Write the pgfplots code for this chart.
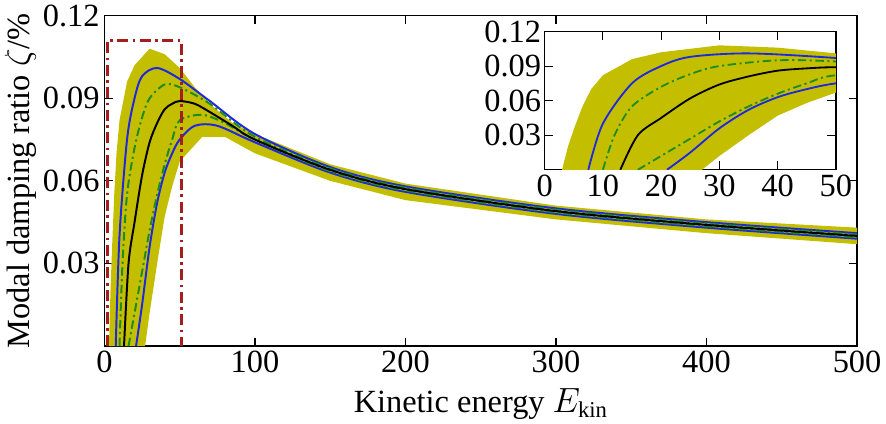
\documentclass[border=0pt]{standalone}
\usepackage{pgfplots}
\usepackage{pgfplotstable}
\pgfplotsset{compat=1.18}
\usepackage{fontspec}
\setmainfont{Liberation Serif}
\definecolor{band}{RGB}{196,190,0}
\definecolor{cblue}{RGB}{30,40,220}
\definecolor{cgreen}{RGB}{30,140,30}
\definecolor{cred}{RGB}{165,30,30}
\pgfplotstableread{
x y
3 0
4 0.02
5 0.035
6.5 0.055
8 0.07
10 0.082
15 0.096
20 0.102
30 0.108
40 0.106
50 0.101
60 0.094
70 0.088
85 0.081
100 0.077
150 0.066
200 0.059
300 0.051
400 0.046
500 0.043
500 0.037
400 0.041
300 0.046
200 0.053
150 0.060
100 0.070
80 0.076
65 0.076
50 0.067
45 0.058
40 0.047
35 0.030
30 0.012
27 0
}\band
\pgfplotstableread{
x y
13 0
16 0.03
20 0.045
25 0.062
30 0.074
35 0.081
40 0.086
45 0.088
50 0.089
60 0.088
70 0.085
85 0.080
100 0.075
150 0.064
200 0.057
300 0.049
400 0.044
500 0.040
}\black
\pgfplotstableread{
x y
7.5 0
10 0.04
15 0.075
20 0.09
25 0.098
35 0.101
50 0.097
70 0.089
100 0.077
150 0.065
200 0.058
300 0.050
400 0.045
500 0.041
}\bup
\pgfplotstableread{
x y
21 0
25 0.015
30 0.036
35 0.052
40 0.063
45 0.07
50 0.075
60 0.080
75 0.080
100 0.074
150 0.063
200 0.056
300 0.048
400 0.043
500 0.039
}\blo
\pgfplotstableread{
x y
10 0
12 0.03
15 0.055
20 0.072
25 0.083
30 0.09
40 0.095
50 0.094
70 0.088
100 0.076
150 0.0645
200 0.0575
300 0.0495
400 0.0445
500 0.0405
}\gup
\pgfplotstableread{
x y
16 0
20 0.012
25 0.027
30 0.042
35 0.055
40 0.066
45 0.075
50 0.082
65 0.084
80 0.081
100 0.075
150 0.0635
200 0.0565
300 0.0485
400 0.0435
500 0.0395
}\glo
\begin{document}
\begin{tikzpicture}
\pgfplotsset{
  every axis/.append style={font=\fontsize{23}{27}\selectfont, /pgf/number format/assume math mode=true, tick style={black, line width=0.8pt}, axis line style={line width=1pt}, tick align=inside, major tick length=6pt},
  gdash/.style={dash pattern=on 6pt off 2.5pt on 1.5pt off 2.5pt},
}
\begin{axis}[name=main, scale only axis, width=534.75pt, height=234.75pt,
  xmin=0, xmax=500, ymin=0, ymax=0.12,
  xtick={0,100,...,500}, ytick={0.03,0.06,0.09,0.12},
  yticklabels={0.03,0.06,0.09,0.12},
  xlabel={Kinetic energy $E_{\mathrm{kin}}$},
  ylabel={Modal damping ratio $\zeta$/\%},
  ylabel style={yshift=-2pt}, xlabel style={yshift=-4pt},
  every tick label/.append style={font=\fontsize{23}{27}\selectfont}]
\addplot[fill=band, draw=none] table {\band};
\addplot[cblue, line width=1.4pt, smooth] table {\bup};
\addplot[cblue, line width=1.4pt, smooth] table {\blo};
\addplot[cgreen, line width=1.4pt, gdash, smooth] table {\gup};
\addplot[cgreen, line width=1.4pt, gdash, smooth] table {\glo};
\addplot[black, line width=1.4pt, smooth] table {\black};
\addplot[cred, line width=2pt, dash pattern=on 8pt off 3pt on 2pt off 3pt] coordinates {(2,0) (2,0.111) (51,0.111) (51,0)};
\end{axis}
\begin{axis}[at={(312.75pt,125.25pt)}, anchor=south west, scale only axis, width=207pt, height=98.25pt,
  xmin=0, xmax=50, ymin=0, ymax=0.12,
  xtick={0,10,...,50}, ytick={0.03,0.06,0.09,0.12},
  yticklabels={0.03,0.06,0.09,0.12},
  axis background/.style={fill=white},
  every tick label/.append style={font=\fontsize{23}{27}\selectfont},
  yticklabel style={xshift=1pt}]
\addplot[fill=band, draw=none] table {\band};
\addplot[cblue, line width=1.3pt, smooth] table {\bup};
\addplot[cblue, line width=1.3pt, smooth] table {\blo};
\addplot[cgreen, line width=1.3pt, gdash, smooth] table {\gup};
\addplot[cgreen, line width=1.3pt, gdash, smooth] table {\glo};
\addplot[black, line width=1.3pt, smooth] table {\black};
\end{axis}
\end{tikzpicture}
\end{document}
